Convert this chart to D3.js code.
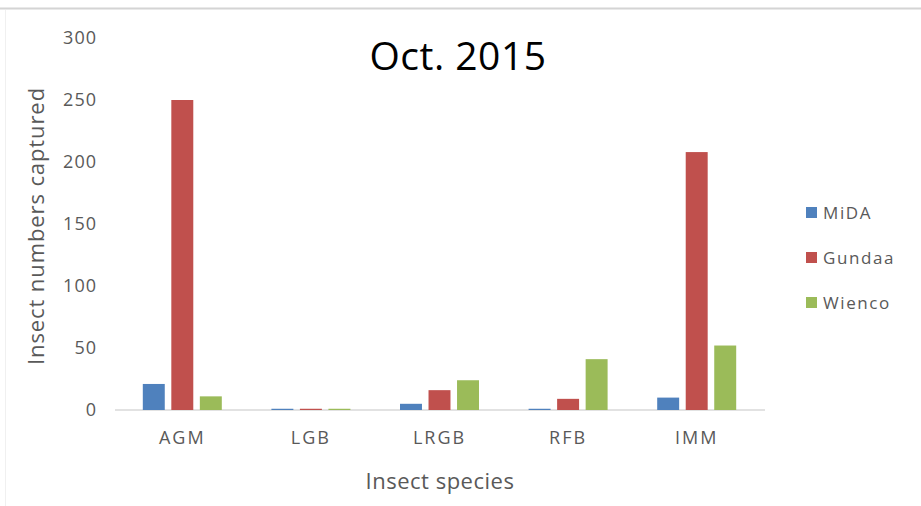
<!DOCTYPE html>
<html>
<head>
<meta charset="utf-8">
<script src="https://cdn.jsdelivr.net/npm/d3@7/dist/d3.min.js"></script>
<style>
  html, body { margin: 0; padding: 0; background: #fff; }
  svg { display: block; }
  text { font-family: "Open Sans", "Noto Sans", sans-serif; }
</style>
</head>
<body>
<svg id="chart" width="921" height="506"></svg>
<script>
// Insect catches per site, October 2015
const categories = ["AGM", "LGB", "LRGB", "RFB", "IMM"];
const seriesNames = ["MiDA", "Gundaa", "Wienco"];
const mida   = [21, 1, 5, 1, 10];
const gundaa = [250, 1, 16, 9, 208];
const wienco = [11, 1, 24, 41, 52];
const yTicks = [0, 50, 100, 150, 200, 250, 300];
const colors = ["#4f81bd", "#c0504d", "#9bbb59"];

const seriesValues = [mida, gundaa, wienco];
const svg = d3.select("#chart");

// frame lines
svg.append("line").attr("x1", 0).attr("x2", 921).attr("y1", 8.5).attr("y2", 8.5)
  .attr("stroke", "#d4d4d4").attr("stroke-width", 2);
svg.append("line").attr("x1", 5.5).attr("x2", 5.5).attr("y1", 10).attr("y2", 506)
  .attr("stroke", "#f0f0f0").attr("stroke-width", 1);

const plot = { left: 118, right: 761, top: 38, bottom: 410 };

const x = d3.scaleBand().domain(categories).range([plot.left, plot.right]).paddingInner(0).paddingOuter(0);
const xInner = d3.scaleBand().domain(seriesNames).range([0, 79]).paddingInner(0.23);
const y = d3.scaleLinear().domain([0, 300]).range([plot.bottom, plot.top]);

// y tick labels (no grid, no axis line)
const yAxis = d3.axisLeft(y).tickValues(yTicks).tickSize(0).tickPadding(0);
const gy = svg.append("g").attr("transform", "translate(97,0)").call(yAxis);
gy.select(".domain").remove();
gy.selectAll("text").attr("fill", "#595959").attr("font-size", 18).attr("letter-spacing", 1)
  .attr("font-family", "'Open Sans', 'Noto Sans', sans-serif");

// x axis (drawn first so the bars sit on top of the baseline)
const xAxis = d3.axisBottom(x).tickSize(0).tickPadding(0);
const gx = svg.append("g").attr("transform", `translate(0,${plot.bottom})`).call(xAxis);
gx.select(".domain").attr("stroke", "#d9d9d9").attr("stroke-width", 1.5)
  .attr("d", `M${plot.left - 3},0H${plot.right + 4}`);
gx.selectAll("text").attr("fill", "#595959").attr("font-size", 18).attr("dy", "1.9em")
  .attr("letter-spacing", 2)
  .attr("font-family", "'Open Sans', 'Noto Sans', sans-serif");

// bars
const groups = svg.append("g").selectAll("g").data(categories).join("g")
  .attr("transform", d => `translate(${x(d) + (x.bandwidth() - 79) / 2},0)`);
groups.selectAll("rect")
  .data((c, i) => seriesNames.map((s, k) => ({ s, k, v: seriesValues[k][i] })))
  .join("rect")
  .attr("x", d => xInner(d.s))
  .attr("width", xInner.bandwidth())
  .attr("y", d => y(d.v))
  .attr("height", d => y(0) - y(d.v))
  .attr("fill", d => colors[d.k]);

// title
svg.append("text").attr("x", 458).attr("y", 70).attr("text-anchor", "middle")
  .attr("font-size", 39).attr("letter-spacing", 0.5).attr("fill", "#000").text("Oct. 2015");

// axis titles
svg.append("text").attr("x", 440).attr("y", 489).attr("text-anchor", "middle")
  .attr("font-size", 22).attr("letter-spacing", 0.5).attr("fill", "#595959").text("Insect species");
svg.append("text").attr("transform", "translate(44,226) rotate(-90)")
  .attr("text-anchor", "middle").attr("font-size", 22).attr("letter-spacing", 0.9).attr("fill", "#595959")
  .text("Insect numbers captured");

// legend
const legend = svg.append("g").selectAll("g").data(seriesNames).join("g")
  .attr("transform", (d, i) => `translate(806,${213 + i * 45})`);
legend.append("rect").attr("x", 0).attr("y", -6).attr("width", 11).attr("height", 11)
  .attr("fill", (d, i) => colors[i]);
legend.append("text").attr("x", 17).attr("y", 6).attr("font-size", 17)
  .attr("fill", "#595959").attr("letter-spacing", 1.6).text(d => d);
</script>
</body>
</html>
